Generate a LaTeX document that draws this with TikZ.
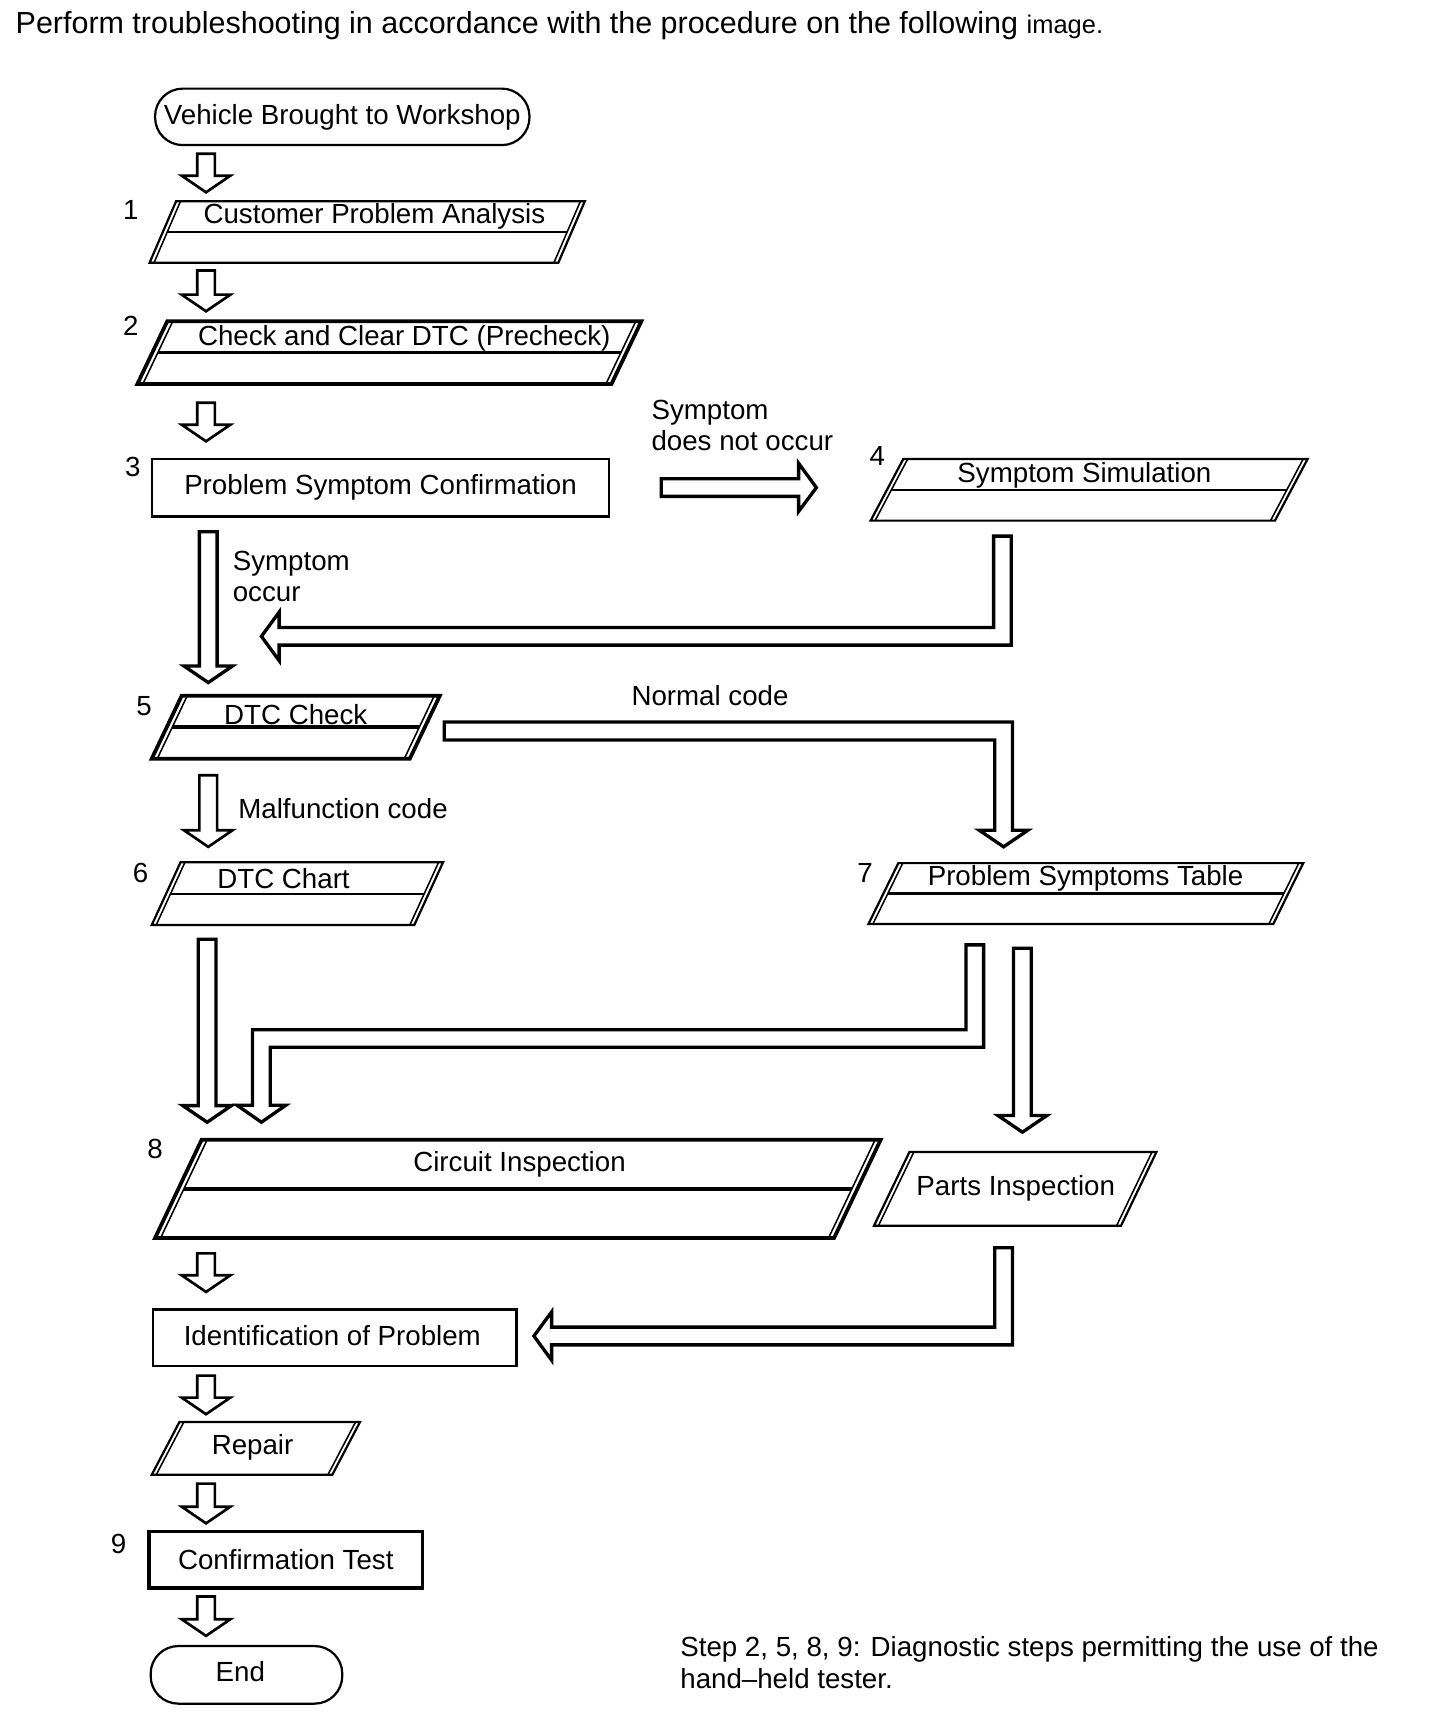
\documentclass[tikz,border=0pt]{standalone}
\usepackage{fontspec}
\setmainfont{Liberation Sans}
\usetikzlibrary{calc}
\tikzset{
  lbl/.style={inner sep=0pt, font=\fontsize{25}{28}\selectfont},
  hollow/.style={draw=black, line width=2.4, fill=white, line join=miter},
  hollowL/.style={hollow, line width=3},
  box/.style={draw, line width=2, inner sep=0pt, font=\fontsize{25}{28}\selectfont},
  stadium/.style={draw, line width=2, rounded corners=25, inner sep=0pt, font=\fontsize{25}{28}\selectfont},
}
% parallelogram: #1 name, #2 BLx, #3 ytop, #4 ybot, #5 width, #6 slant, #7 outer lw, #8 gap
\newcommand\PG[8]{%
 \coordinate (#1-bl) at (#2,#4);
 \coordinate (#1-tl) at ({#2+#6},#3);
 \coordinate (#1-tr) at ({#2+#6+#5},#3);
 \coordinate (#1-br) at ({#2+#5},#4);
 \draw[line width=#7, line join=miter] (#1-bl) -- (#1-tl) -- (#1-tr) -- (#1-br) -- cycle;
 \draw[line width=1.4] ($(#1-bl)+(#8,0)$) -- ($(#1-tl)+(#8,0)$);
 \draw[line width=1.4] ($(#1-br)-(#8,0)$) -- ($(#1-tr)-(#8,0)$);
}
% middle line: #1 name, #2 lw, #3 gap
\newcommand\PGmid[3]{%
 \draw[line width=#2] ($($(#1-bl)!0.5!(#1-tl)$)+(#3,0)$) -- ($($(#1-br)!0.5!(#1-tr)$)-(#3,0)$);
}
% hollow down arrow: #1 x, #2 ytop, #3 ytip
\newcommand\DA[3]{%
 \draw[hollow] ({#1-8},#2) -- ({#1+8},#2) -- ({#1+8},{#3-15}) -- ({#1+22},{#3-15}) -- (#1,#3) -- ({#1-22},{#3-15}) -- ({#1-8},{#3-15}) -- cycle;
}
\newcommand\DAL[3]{%
 \draw[hollowL] ({#1-8},#2) -- ({#1+8},#2) -- ({#1+8},{#3-15}) -- ({#1+22},{#3-15}) -- (#1,#3) -- ({#1-22},{#3-15}) -- ({#1-8},{#3-15}) -- cycle;
}
\begin{document}
\begin{tikzpicture}[x=1pt,y=-1pt]
\useasboundingbox (0,0) rectangle (1300,1560);
\fill[white] (0,0) rectangle (1300,1560);

% title
\node[inner sep=0pt, anchor=base west, font=\fontsize{27.5}{30}\selectfont] (title) at (14,30) {Perform troubleshooting in accordance with the procedure on the following {\fontsize{23}{26}\selectfont image.}};

% start
\node[stadium, minimum width=338, minimum height=51] (start) at (309,105.5) {Vehicle Brought to Workshop};
\DA{186}{138.8}{173.6}

% step 1
\node[lbl] (n1) at (118,189.5) {1};
\PG{p1}{135}{181.6}{237.3}{369}{24}{2}{4}
\PGmid{p1}{2}{4}
\node[lbl] (t1) at (338,195.5) {Customer Problem Analysis};
\DA{186}{244.2}{281}

% step 2
\node[lbl] (n2) at (118,294.5) {2};
\PG{p2}{124}{290}{346.7}{428}{27}{3.4}{5}
\PGmid{p2}{3.2}{5}
\node[lbl] (t2) at (365,305) {Check and Clear DTC (Precheck)};
\DA{186}{363.6}{398.4}

% step 3
\node[lbl] (n3) at (120,421.5) {3};
\node[box, minimum width=413, minimum height=52] (r3) at (343.5,440.2) {Problem Symptom Confirmation};

\node[lbl, anchor=west, align=left] (lnot) at (588,384.5) {Symptom\\does not occur};
\draw[hollowL] (597,432.2) -- (721,432.2) -- (721,418.3) -- (737,440.2) -- (721,461.7) -- (721,448.1) -- (597,448.1) -- cycle;

% step 4
\node[lbl] (n4) at (792,411.5) {4};
\PG{p4}{786}{414.3}{470}{365}{29.5}{2}{4}
\PGmid{p4}{2}{4}
\node[lbl] (t4) at (979,429) {Symptom Simulation};

\draw[hollowL] (897,484) -- (913,484) -- (913,582.4) -- (252,582.4) -- (252,596.4) -- (236,574.5) -- (252,552.6) -- (252,566.5) -- (897,566.5) -- cycle;

\DAL{188}{480}{616.2}
\node[lbl, anchor=west, align=left] (locc) at (210,520.3) {Symptom\\occur};

% step 5
\node[lbl] (n5) at (130,637.1) {5};
\PG{p5}{137}{628.2}{684.9}{233}{27}{3.4}{5}
\PGmid{p5}{3.2}{5}
\node[lbl] (t5) at (267,645.1) {DTC Check};

\node[lbl] (lnorm) at (641,628.2) {Normal code};
\draw[hollowL] (401,651.8) -- (914,651.8) -- (914,749.5) -- (928,749.5) -- (906,764.5) -- (884,749.5) -- (898,749.5) -- (898,668) -- (401,668) -- cycle;

\DA{188}{699.8}{764.5}
\node[lbl, anchor=west] (lmal) at (215,729.6) {Malfunction code};

% step 6
\node[lbl] (n6) at (127,788.3) {6};
\PG{p6}{137}{778.4}{835.1}{237}{26}{2}{4}
\PGmid{p6}{2}{4}
\node[lbl] (t6) at (256,793.3) {DTC Chart};

% step 7
\node[lbl] (n7) at (781,788.3) {7};
\PG{p7}{784}{779.2}{834.2}{365.5}{27}{2}{4}
\PGmid{p7}{2}{4}
\node[lbl] (t7) at (980,792.5) {Problem Symptoms Table};

\DAL{187}{848}{1013.1}
\draw[hollowL] (872,853) -- (888,853) -- (888,945.5) -- (244,945.5) -- (244,997.8) -- (258,997.8) -- (236,1013.1) -- (214,997.8) -- (228,997.8) -- (228,929.6) -- (872,929.6) -- cycle;
\DAL{923}{856}{1022.1}

% step 8
\node[lbl] (n8) at (140,1037) {8};
\PG{p8}{140}{1029}{1117.6}{613}{42}{3.4}{5}
\PGmid{p8}{3}{5}
\node[lbl] (t8) at (469,1050.9) {Circuit Inspection};

% parts inspection
\PG{pp}{789}{1040}{1106.6}{223}{32}{2}{4}
\node[lbl] (tp) at (917,1072.8) {Parts Inspection};

\DA{186}{1131.5}{1166.3}
\node[box, line width=2.4, minimum width=328, minimum height=51] (rid) at (302,1207.6) {};
\node[lbl] (tid) at (300,1206.1) {Identification of Problem};
\draw[hollowL] (898,1126.5) -- (914,1126.5) -- (914,1214.1) -- (498,1214.1) -- (498,1228) -- (482,1206.1) -- (498,1184.3) -- (498,1198.1) -- (898,1198.1) -- cycle;

\DA{186}{1241.9}{1276.7}
% repair
\PG{pr}{137}{1283.7}{1331.4}{163}{25}{2}{4}
\node[lbl] (tr) at (228,1306.6) {Repair};

\DA{186}{1339.4}{1375.2}
% step 9
\node[lbl] (n9) at (107,1394.1) {9};
\node[box, line width=3.4, minimum width=247, minimum height=51] (rconf) at (258,1408) {Confirmation Test};

\DA{186}{1441.2}{1476.8}
\node[stadium, minimum width=173, minimum height=52] (end) at (222.5,1512) {};
\node[lbl] (tend) at (217,1509.5) {End};

% note
\node[lbl, anchor=west, align=left, font=\fontsize{25}{29}\selectfont] (note) at (614,1501) {Step 2, 5, 8, 9: Diagnostic steps permitting the use of the\\hand–held tester.};
\end{tikzpicture}
\end{document}
